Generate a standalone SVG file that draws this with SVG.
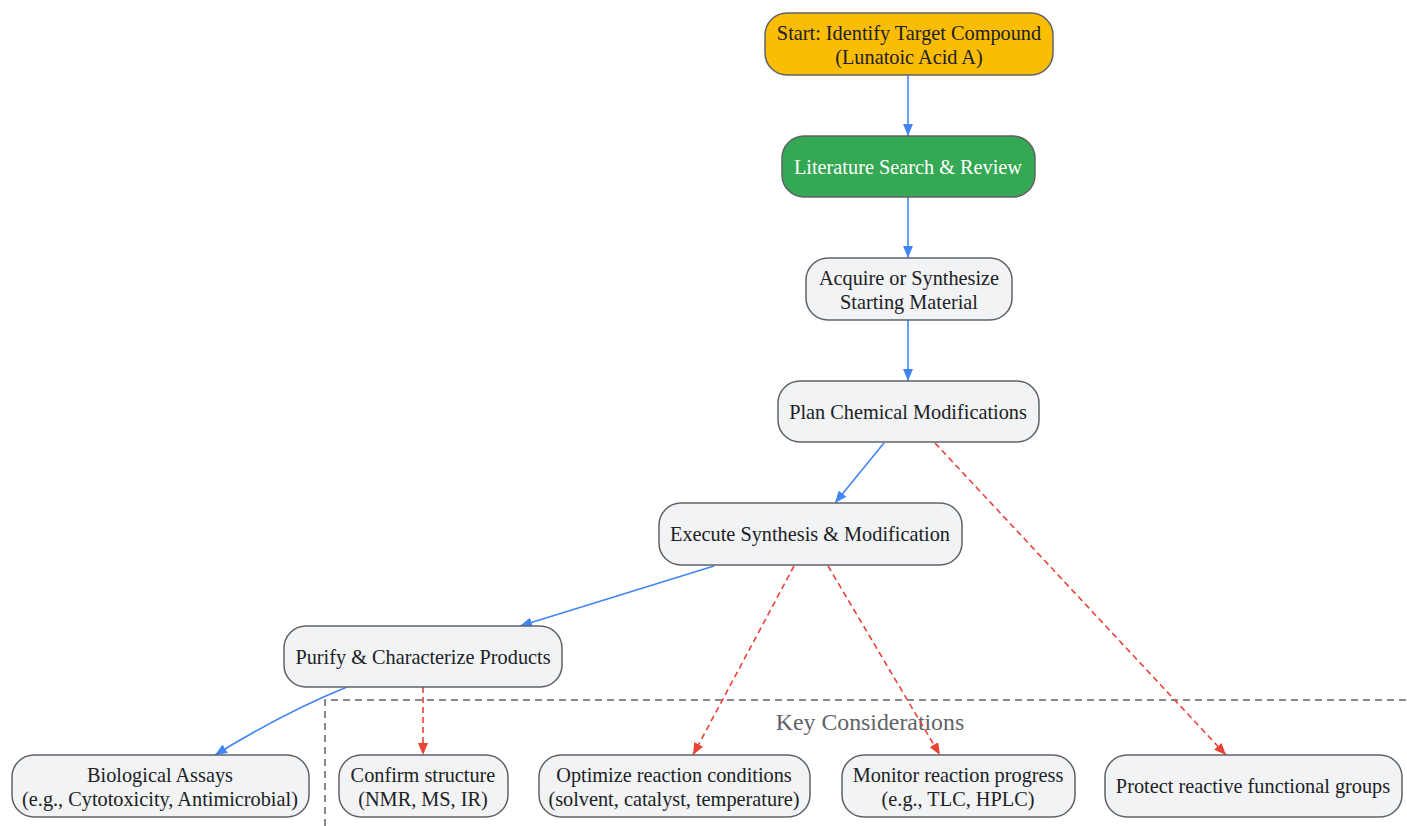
<svg xmlns="http://www.w3.org/2000/svg" width="1407" height="826" viewBox="0 0 1407 826">
<style>
.n{fill:#f1f3f4;stroke:#5f6368;stroke-width:1.5}
.t{font-family:"Liberation Serif",serif;font-size:20.3px;fill:#202124;text-anchor:middle}
.b{fill:none;stroke:#4285f4;stroke-width:1.6}
.r{fill:none;stroke:#ea4335;stroke-width:1.6;stroke-dasharray:6,4}
</style>
<defs>
<marker id="ab" viewBox="0 0 12 10" refX="12" refY="5" markerWidth="12" markerHeight="10" markerUnits="userSpaceOnUse" orient="auto"><path d="M0,0L12,5L0,10z" fill="#4285f4"/></marker>
<marker id="ar" viewBox="0 0 12 10" refX="12" refY="5" markerWidth="12" markerHeight="10" markerUnits="userSpaceOnUse" orient="auto"><path d="M0,0L12,5L0,10z" fill="#ea4335"/></marker>
</defs>
<rect width="1407" height="826" fill="#fff"/>
<g id="cluster">
<path d="M325,826V700H1407" fill="none" stroke="#5f6368" stroke-width="1.5" stroke-dasharray="7,5"/>
<text x="870" y="730" font-family="Liberation Serif,serif" font-size="23.8" fill="#5f6368" text-anchor="middle">Key Considerations</text>
</g>
<g id="edges">
<path class="b" d="M908,75V136" marker-end="url(#ab)"/>
<path class="b" d="M908,197V258" marker-end="url(#ab)"/>
<path class="b" d="M908,320V381" marker-end="url(#ab)"/>
<path class="b" d="M884,443L835,503" marker-end="url(#ab)"/>
<path class="b" d="M714,566L520,626" marker-end="url(#ab)"/>
<path class="b" d="M347,687Q285,712 215,755" marker-end="url(#ab)"/>
<path class="r" d="M423,687V755" marker-end="url(#ar)"/>
<path class="r" d="M794,566L693,755" marker-end="url(#ar)"/>
<path class="r" d="M828,566L940,755" marker-end="url(#ar)"/>
<path class="r" d="M935,443L1226,755" marker-end="url(#ar)"/>
</g>
<g id="start"><rect x="765" y="13" width="288" height="62" rx="22" fill="#fbbc04" stroke="#5f6368" stroke-width="1.5"/><text class="t" x="909" y="40">Start: Identify Target Compound</text><text class="t" x="909" y="64">(Lunatoic Acid A)</text></g>
<g id="lit"><rect x="782" y="136" width="253" height="61" rx="22" fill="#34a853" stroke="#5f6368" stroke-width="1.5"/><text class="t" x="908" y="174" style="fill:#fff">Literature Search &amp; Review</text></g>
<g id="acquire"><rect class="n" x="806" y="258" width="206" height="62" rx="22"/><text class="t" x="909" y="285">Acquire or Synthesize</text><text class="t" x="909" y="309">Starting Material</text></g>
<g id="plan"><rect class="n" x="778" y="381" width="261" height="61" rx="22"/><text class="t" x="908" y="419">Plan Chemical Modifications</text></g>
<g id="execute"><rect class="n" x="659" y="503" width="303" height="62" rx="22"/><text class="t" x="810" y="541">Execute Synthesis &amp; Modification</text></g>
<g id="purify"><rect class="n" x="284" y="626" width="278" height="61" rx="22"/><text class="t" x="423" y="664">Purify &amp; Characterize Products</text></g>
<g id="bio"><rect class="n" x="12" y="755" width="297" height="62" rx="22"/><text class="t" x="160" y="782">Biological Assays</text><text class="t" x="160" y="806">(e.g., Cytotoxicity, Antimicrobial)</text></g>
<g id="confirm"><rect class="n" x="339" y="755" width="169" height="62" rx="22"/><text class="t" x="423" y="782">Confirm structure</text><text class="t" x="423" y="806">(NMR, MS, IR)</text></g>
<g id="optimize"><rect class="n" x="539" y="755" width="271" height="62" rx="22"/><text class="t" x="674" y="782">Optimize reaction conditions</text><text class="t" x="674" y="806">(solvent, catalyst, temperature)</text></g>
<g id="monitor"><rect class="n" x="842" y="755" width="233" height="62" rx="22"/><text class="t" x="958" y="782">Monitor reaction progress</text><text class="t" x="958" y="806">(e.g., TLC, HPLC)</text></g>
<g id="protect"><rect class="n" x="1105" y="755" width="297" height="62" rx="22"/><text class="t" x="1253" y="793">Protect reactive functional groups</text></g>
</svg>
